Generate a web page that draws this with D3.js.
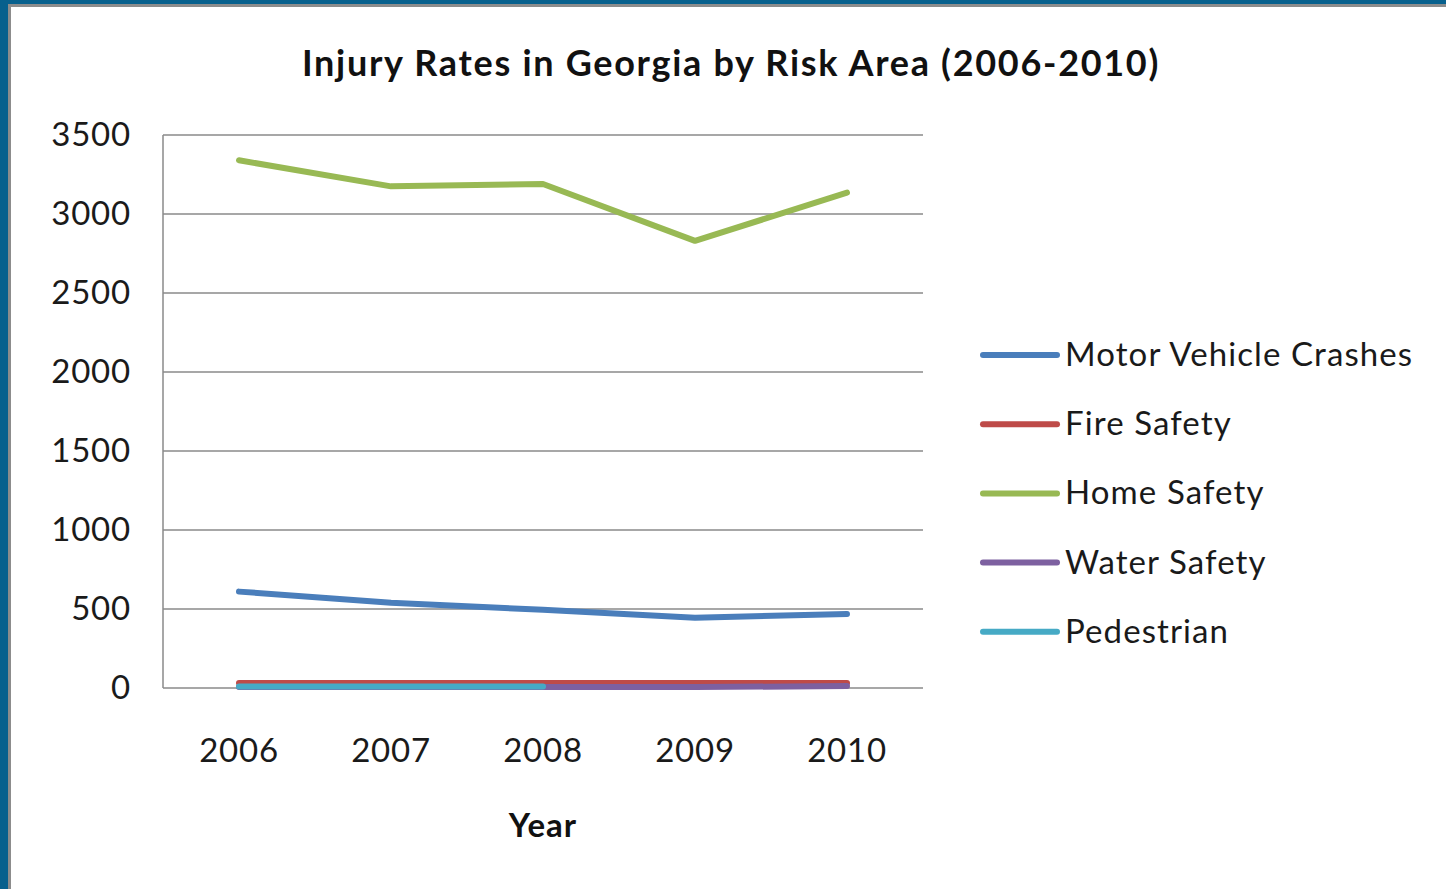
<!DOCTYPE html>
<html>
<head>
<meta charset="utf-8">
<script src="https://cdn.jsdelivr.net/npm/d3@7"></script>
<style>
  html, body { margin: 0; padding: 0; background: #ffffff; }
  svg { display: block; }
</style>
</head>
<body>
<svg id="chart" width="1446" height="889"></svg>
<script>
// Injury rates by risk area, Georgia 2006-2010
const years = ["2006", "2007", "2008", "2009", "2010"];
const motorVehicle = [610, 540, 495, 445, 468];
const fireSafety = [32, 32, 32, 32, 32];
const homeSafety = [3340, 3175, 3190, 2830, 3135];
const waterSafety = [6, 6, 6, 6, 12];
const pedestrian = [10, 10, 10, null, null];
const yTicks = [0, 500, 1000, 1500, 2000, 2500, 3000, 3500];

const seriesNames = ["Motor Vehicle Crashes", "Fire Safety", "Home Safety", "Water Safety", "Pedestrian"];
const seriesValues = [motorVehicle, fireSafety, homeSafety, waterSafety, pedestrian];
const seriesColors = ["#4a7ebb", "#be4b48", "#98b954", "#7d60a0", "#46aac5"];

const W = 1446, H = 889;
const svg = d3.select("#chart");
const font = "Lato, 'Open Sans', sans-serif";

// outer frame: blue band then a thin grey edge
svg.append("rect").attr("x", 0).attr("y", 0).attr("width", W).attr("height", H).attr("fill", "#07608d");
svg.append("rect").attr("x", 8).attr("y", 4).attr("width", W - 8).attr("height", H - 4).attr("fill", "#8c8c8c");
svg.append("rect").attr("x", 11).attr("y", 7).attr("width", W - 11).attr("height", H - 7).attr("fill", "#ffffff");

const plot = { left: 163, top: 135, right: 923, bottom: 688 };

const x = d3.scaleBand().domain(years).range([plot.left, plot.right]);
const y = d3.scaleLinear().domain([0, 3500]).range([plot.bottom, plot.top]);

// horizontal gridlines
svg.append("g")
  .selectAll("line")
  .data(yTicks)
  .join("line")
  .attr("x1", plot.left).attr("x2", plot.right)
  .attr("y1", d => y(d)).attr("y2", d => y(d))
  .attr("stroke", "#8a8a8a").attr("stroke-width", 1.5);

// y axis line
svg.append("line")
  .attr("x1", plot.left).attr("x2", plot.left)
  .attr("y1", plot.top).attr("y2", plot.bottom)
  .attr("stroke", "#8a8a8a").attr("stroke-width", 1.5);

// y tick labels
const yAxis = d3.axisLeft(y).tickValues(yTicks).tickSize(0).tickPadding(32).tickFormat(d3.format("d"));
const yg = svg.append("g").attr("transform", `translate(${plot.left},0)`).call(yAxis);
yg.select(".domain").remove();
yg.selectAll("text").attr("font-family", font).attr("font-size", 33)
  .attr("letter-spacing", 0.8).attr("fill", "#1a1a1a");

// x tick labels
const xAxis = d3.axisBottom(x).tickSize(0).tickPadding(51);
const xg = svg.append("g").attr("transform", `translate(0,${plot.bottom})`).call(xAxis);
xg.select(".domain").remove();
xg.selectAll("text").attr("font-family", font).attr("font-size", 33)
  .attr("letter-spacing", 0.8).attr("fill", "#1a1a1a");

// series lines
const line = d3.line()
  .defined(d => d.v !== null)
  .x(d => x(d.year) + x.bandwidth() / 2)
  .y(d => y(d.v));

seriesNames.forEach((name, i) => {
  const pts = years.map((yr, j) => ({ year: yr, v: seriesValues[i][j] }));
  svg.append("path")
    .datum(pts)
    .attr("d", line)
    .attr("fill", "none")
    .attr("stroke", seriesColors[i])
    .attr("stroke-width", 6)
    .attr("stroke-linecap", "round")
    .attr("stroke-linejoin", "round");
});

// title
svg.append("text")
  .attr("x", 731).attr("y", 76)
  .attr("text-anchor", "middle")
  .attr("font-family", font).attr("font-weight", "bold").attr("font-size", 36)
  .attr("letter-spacing", 1.7)
  .attr("fill", "#111111")
  .text("Injury Rates in Georgia by Risk Area (2006-2010)");

// x axis title
svg.append("text")
  .attr("x", (plot.left + plot.right) / 2).attr("y", 837)
  .attr("text-anchor", "middle")
  .attr("font-family", font).attr("font-weight", "bold").attr("font-size", 33)
  .attr("letter-spacing", 1)
  .attr("fill", "#111111")
  .text("Year");

// legend
const legend = svg.append("g").attr("transform", "translate(983,355)");
seriesNames.forEach((name, i) => {
  const g = legend.append("g").attr("transform", `translate(0,${i * 69.2})`);
  g.append("line")
    .attr("x1", 0).attr("x2", 74).attr("y1", 0).attr("y2", 0)
    .attr("stroke", seriesColors[i]).attr("stroke-width", 6).attr("stroke-linecap", "round");
  g.append("text")
    .attr("x", 82).attr("y", 11)
    .attr("font-family", font).attr("font-size", 33)
    .attr("letter-spacing", 1.1)
    .attr("fill", "#1a1a1a")
    .text(name);
});
</script>
</body>
</html>
